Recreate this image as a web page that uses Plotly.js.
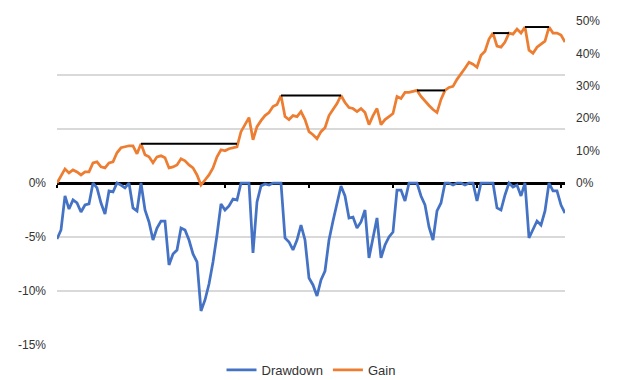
<!DOCTYPE html>
<html>
<head>
<meta charset="utf-8">
<script src="https://cdn.plot.ly/plotly-3.0.1.min.js"></script>
<style>
  html, body { margin: 0; padding: 0; background: #fff; }
  #chart { width: 626px; height: 380px; }
</style>
</head>
<body>
<div id="chart"></div>
<script>
// Cumulative gain (right axis)
const gain = [
  0.0000, 0.0217, 0.0435, 0.0311, 0.0404, 0.0342, 0.0248, 0.0342, 0.0342, 0.0621,
  0.0652, 0.0497, 0.0466, 0.0621, 0.0652, 0.0932, 0.1087, 0.1118, 0.1149, 0.1149,
  0.0901, 0.1211, 0.0870, 0.0807, 0.0621, 0.0807, 0.0839, 0.0776, 0.0466, 0.0497,
  0.0559, 0.0745, 0.0683, 0.0559, 0.0466, 0.0248, -0.0062, 0.0093, 0.0248, 0.0466,
  0.0807, 0.1025, 0.0994, 0.1056, 0.1087, 0.1118, 0.1584, 0.1801, 0.2019, 0.1335,
  0.1739, 0.1925, 0.2081, 0.2174, 0.2360, 0.2422, 0.2702, 0.2050, 0.1957, 0.2081,
  0.2050, 0.2205, 0.1957, 0.1584, 0.1491, 0.1366, 0.1584, 0.1708, 0.2081, 0.2267,
  0.2453, 0.2702, 0.2484, 0.2329, 0.2298, 0.2205, 0.2298, 0.2174, 0.1801, 0.2081,
  0.2298, 0.1801, 0.1957, 0.2050, 0.2143, 0.2671, 0.2609, 0.2795, 0.2795, 0.2826,
  0.2857, 0.2671, 0.2516, 0.2391, 0.2267, 0.2174, 0.2578, 0.2857, 0.2950, 0.2981,
  0.3199, 0.3354, 0.3540, 0.3727, 0.3665, 0.3571, 0.3944, 0.4068, 0.4441, 0.4627,
  0.4224, 0.4193, 0.4348, 0.4627, 0.4596, 0.4752, 0.4627, 0.4814, 0.4099, 0.4006,
  0.4193, 0.4286, 0.4379, 0.4814, 0.4627, 0.4627, 0.4565, 0.4348
];

// Drawdown from running peak (left axis)
const drawdown = [
  -0.0519, -0.0435, -0.0120, -0.0241, -0.0157, -0.0185, -0.0269, -0.0204, -0.0194, 0.0000,
  -0.0046, -0.0185, -0.0287, -0.0074, -0.0083, 0.0000, -0.0019, -0.0046, 0.0000, -0.0231,
  -0.0259, 0.0000, -0.0250, -0.0361, -0.0528, -0.0417, -0.0352, -0.0352, -0.0759, -0.0657,
  -0.0620, -0.0417, -0.0435, -0.0528, -0.0657, -0.0731, -0.1185, -0.1083, -0.0935, -0.0731,
  -0.0481, -0.0194, -0.0250, -0.0213, -0.0148, -0.0157, 0.0000, 0.0000, 0.0000, -0.0648,
  -0.0176, -0.0028, -0.0009, -0.0019, 0.0000, 0.0000, 0.0000, -0.0509, -0.0546, -0.0620,
  -0.0528, -0.0389, -0.0528, -0.0880, -0.0944, -0.1046, -0.0898, -0.0815, -0.0528, -0.0352,
  -0.0204, -0.0028, -0.0120, -0.0324, -0.0315, -0.0417, -0.0361, -0.0250, -0.0694, -0.0509,
  -0.0324, -0.0694, -0.0574, -0.0500, -0.0454, -0.0065, -0.0065, -0.0167, 0.0000, 0.0000,
  0.0000, -0.0120, -0.0204, -0.0407, -0.0528, -0.0259, -0.0185, 0.0000, 0.0000, -0.0019,
  0.0000, 0.0000, -0.0019, 0.0000, 0.0000, -0.0167, 0.0000, 0.0000, 0.0000, 0.0000,
  -0.0231, -0.0250, -0.0111, 0.0000, -0.0037, -0.0019, -0.0120, 0.0000, -0.0509, -0.0435,
  -0.0352, -0.0389, -0.0259, 0.0000, -0.0074, -0.0074, -0.0204, -0.0278
];

// Long drawdown periods: start/end day, drawn at the peak gain level
const peakStart = [21, 56, 90, 109, 117];
const peakEnd   = [45, 71, 97, 113, 123];

const leftTickVals  = [-0.15, -0.10, -0.05, 0, 0.05, 0.10, 0.15];
const leftTickText  = ['-15%', '-10%', '-5%', '0%', '', '', ''];
const rightTickVals = [0, 0.1, 0.2, 0.3, 0.4, 0.5];
const rightTickText = ['0%', '10%', '20%', '30%', '40%', '50%'];

const day = gain.map((_, i) => i);

const peakX = [], peakY = [];
peakStart.forEach((s, k) => {
  peakX.push(s, peakEnd[k], null);
  peakY.push(gain[s], gain[s], null);
});

const traces = [
  { x: day, y: drawdown, name: 'Drawdown', type: 'scatter', mode: 'lines',
    line: { color: '#4472C4', width: 2.75 }, yaxis: 'y', hoverinfo: 'skip' },
  { x: day, y: gain, name: 'Gain', type: 'scatter', mode: 'lines',
    line: { color: '#ED7D31', width: 2.75 }, yaxis: 'y2', hoverinfo: 'skip' },
  { x: peakX, y: peakY, name: 'Peak', type: 'scatter', mode: 'lines', showlegend: false,
    line: { color: '#000000', width: 2 }, yaxis: 'y2', connectgaps: false, hoverinfo: 'skip' }
];

const font = { family: 'Liberation Sans, Arial, sans-serif', size: 12, color: '#333333' };
const legendFont = { family: 'Liberation Sans, Arial, sans-serif', size: 13, color: '#333333' };

const layout = {
  width: 626, height: 380,
  margin: { l: 57, r: 61, t: 21, b: 35, pad: 0, autoexpand: false },
  paper_bgcolor: '#ffffff', plot_bgcolor: '#ffffff',
  font: font,
  showlegend: true,
  legend: { orientation: 'h', x: 0.5, xanchor: 'center', y: -0.077, yanchor: 'middle',
            font: legendFont, itemwidth: 30, traceorder: 'normal' },
  xaxis: {
    range: [0, gain.length - 1], anchor: 'free', position: 0.5,
    showgrid: false, zeroline: false, showticklabels: false,
    showline: true, linecolor: '#000000', linewidth: 3,
    ticks: 'outside', ticklen: 3, tickwidth: 2, tickcolor: '#000000',
    tick0: 0, dtick: 21, layer: 'below traces'
  },
  yaxis: {
    range: [-0.15, 0.15], tickvals: leftTickVals, ticktext: leftTickText,
    showgrid: true, gridcolor: '#d9d9d9', gridwidth: 1.5, zeroline: false,
    showline: false, ticks: '', ticklabelstandoff: 10, tickfont: font
  },
  yaxis2: {
    range: [-0.5, 0.5], overlaying: 'y', side: 'right',
    tickvals: rightTickVals, ticktext: rightTickText,
    showgrid: false, zeroline: false, showline: false, ticks: '',
    ticklabelstandoff: 10, tickfont: font
  }
};

Plotly.newPlot('chart', traces, layout, { staticPlot: true, displayModeBar: false });
</script>
</body>
</html>
